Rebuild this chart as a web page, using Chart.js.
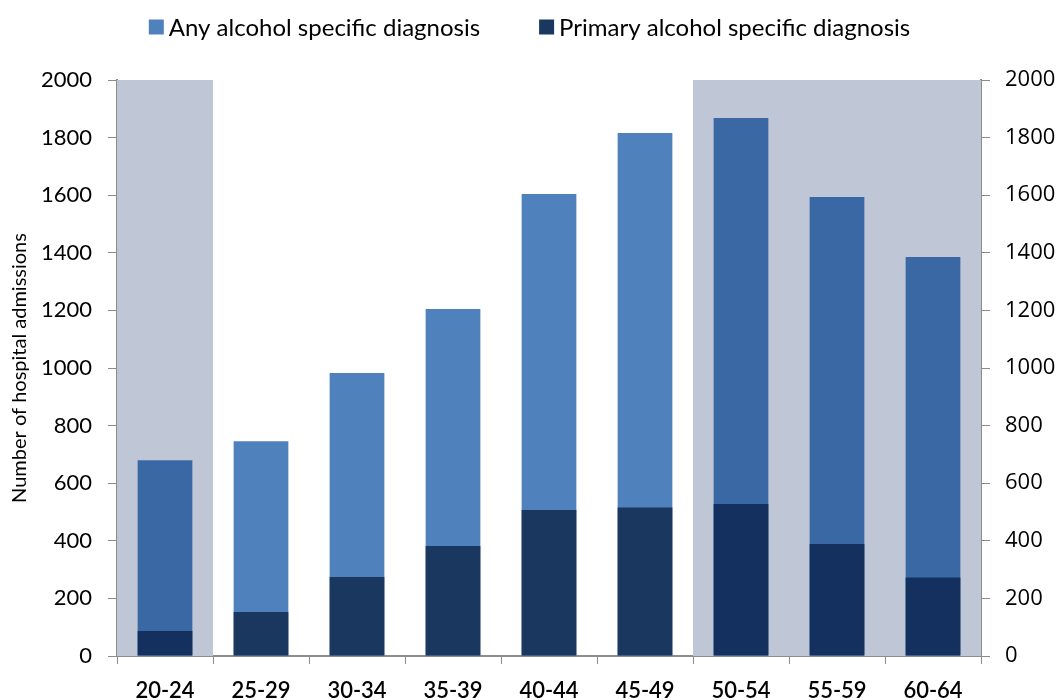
<!DOCTYPE html>
<html>
<head>
<meta charset="utf-8">
<script src="https://cdn.jsdelivr.net/npm/chart.js"></script>
<style>
  html, body { margin: 0; padding: 0; background: #fff; }
  #wrap { width: 1063px; height: 700px; }
</style>
</head>
<body>
<div id="wrap"><canvas id="grafico" width="1063" height="700"></canvas></div>
<script>
// ===== Dados
const faixas      = ['20-24', '25-29', '30-34', '35-39', '40-44', '45-49', '50-54', '55-59', '60-64'];
const qualquerDx  = [680, 746, 983, 1205, 1604, 1816, 1868, 1594, 1385];
const primarioDx  = [87, 153, 274, 382, 507, 516, 528, 389, 273];
const destacadas  = ['20-24', '50-54', '55-59', '60-64'];   // faixas com fundo cinza
const yTicks      = [0, 200, 400, 600, 800, 1000, 1200, 1400, 1600, 1800, 2000];
const legendas    = ['Any alcohol specific diagnosis', 'Primary alcohol specific diagnosis'];

// ===== Cores
const cores = {
  any: '#4F81BD', anyShade: '#3A68A4',
  prim: '#1A375F', primShade: '#13305E',
  shade: '#BFC6D6',
  axis: '#8C8C8C',
  txt: '#000'
};

const corPor = (normal, escura) => faixas.map(f => destacadas.includes(f) ? escura : normal);
const fonte = 'Lato, "DejaVu Sans", sans-serif';

// ===== Plugin: faixas de fundo cinza
const fundoPlugin = {
  id: 'fundoPlugin',
  beforeDatasetsDraw(chart) {
    const { ctx, chartArea, scales } = chart;
    const x = scales.x;
    const passo = x.width / faixas.length;
    ctx.save();
    ctx.fillStyle = cores.shade;
    faixas.forEach((f, i) => {
      if (!destacadas.includes(f)) return;
      const c = x.getPixelForValue(i);
      ctx.fillRect(c - passo / 2, chartArea.top, passo, chartArea.bottom - chartArea.top);
    });
    ctx.restore();
  }
};

// ===== Plugin: legenda no topo (caixa + texto), centrada
const legendaPlugin = {
  id: 'legendaPlugin',
  afterDraw(chart) {
    const { ctx } = chart;
    const caixa = 15, gapTxt = 5, gapItem = 59, yc = 27;
    const itens = [
      { text: legendas[0], color: cores.any },
      { text: legendas[1], color: cores.prim }
    ];
    ctx.save();
    ctx.font = '24px ' + fonte;
    ctx.textBaseline = 'middle';
    const larg = itens.map(it => caixa + gapTxt + ctx.measureText(it.text).width);
    const total = larg.reduce((a, b) => a + b, 0) + gapItem * (itens.length - 1);
    let x = (144 + 915) / 2 - total / 2;
    itens.forEach((it, i) => {
      ctx.fillStyle = it.color;
      ctx.fillRect(x, yc - caixa / 2, caixa, caixa);
      ctx.fillStyle = cores.txt;
      ctx.fillText(it.text, x + caixa + gapTxt, yc + 1);
      x += larg[i] + gapItem;
    });
    ctx.restore();
  }
};

const eixoY = (pos, largura, pad) => ({
  position: pos,
  min: 0,
  max: 2000,
  afterBuildTicks: s => { s.ticks = yTicks.map(v => ({ value: v })); },
  afterFit: s => { s.width = largura; },
  grid: { drawOnChartArea: false, color: cores.axis, tickLength: 9, tickColor: cores.axis },
  border: { display: true, color: cores.axis, width: 2 },
  ticks: {
    color: cores.txt,
    padding: pad,
    callback: v => String(v),
    font: { family: pos === 'left' ? fonte : '"Open Sans", sans-serif', size: 22 }
  }
});

const chart = new Chart(document.getElementById('grafico').getContext('2d'), {
  type: 'bar',
  data: {
    labels: faixas,
    datasets: [
      {
        label: legendas[1],
        data: primarioDx,
        backgroundColor: corPor(cores.prim, cores.primShade),
        grouped: false,
        barPercentage: 0.57,
        categoryPercentage: 1
      },
      {
        label: legendas[0],
        data: qualquerDx,
        backgroundColor: corPor(cores.any, cores.anyShade),
        grouped: false,
        barPercentage: 0.57,
        categoryPercentage: 1
      }
    ]
  },
  options: {
    responsive: false,
    animation: false,
    layout: { padding: { left: 0, right: 0, top: 80, bottom: 0 } },
    plugins: {
      legend: { display: false },
      tooltip: { enabled: false }
    },
    scales: {
      x: {
        offset: true,
        afterFit: s => { s.height = 44; },
        grid: { display: true, offset: true, drawOnChartArea: false, color: cores.axis, tickLength: 8 },
        border: { display: true, color: cores.axis, width: 2 },
        ticks: { color: cores.txt, padding: 14, font: { family: fonte, size: 22, weight: '600' } }
      },
      y: {
        ...eixoY('left', 117, 16),
        title: {
          display: true,
          text: 'Number of hospital admissions',
          color: cores.txt,
          font: { family: fonte, size: 20 },
          padding: { top: 8, bottom: 0 }
        }
      },
      y2: eixoY('right', 82, 15)
    }
  },
  plugins: [fundoPlugin, legendaPlugin]
});
</script>
</body>
</html>
